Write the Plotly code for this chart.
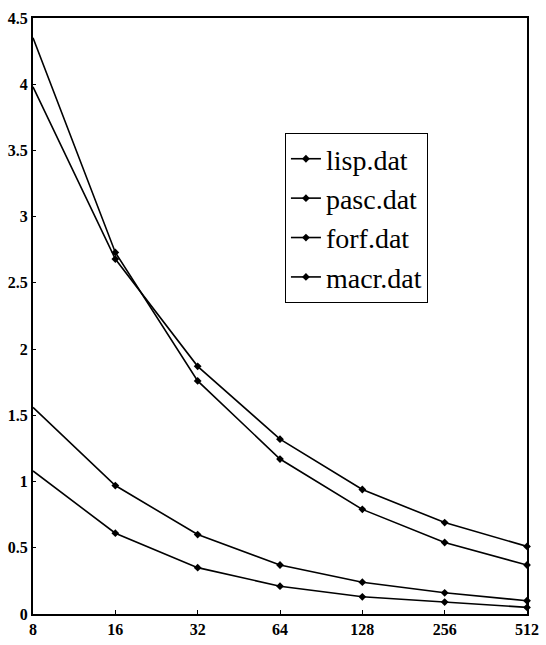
import plotly.graph_objects as go
import math

x_vals = [8, 16, 32, 64, 128, 256, 512]
x_labels = ["8", "16", "32", "64", "128", "256", "512"]
y_ticks = [0, 0.5, 1, 1.5, 2, 2.5, 3, 3.5, 4, 4.5]
y_labels = ["0", "0.5", "1", "1.5", "2", "2.5", "3", "3.5", "4", "4.5"]

lisp = [4.35, 2.73, 1.76, 1.17, 0.79, 0.54, 0.37]
pasc = [3.98, 2.68, 1.87, 1.32, 0.94, 0.69, 0.51]
forf = [1.56, 0.97, 0.60, 0.37, 0.24, 0.16, 0.10]
macr = [1.08, 0.61, 0.35, 0.21, 0.13, 0.09, 0.05]

series = [("lisp.dat", lisp), ("pasc.dat", pasc), ("forf.dat", forf), ("macr.dat", macr)]

fig = go.Figure()
for name, vals in series:
    fig.add_trace(go.Scatter(
        x=x_vals, y=vals, name=name, mode="lines+markers",
        line=dict(color="black", width=1.6),
        marker=dict(symbol="diamond", size=6, color="black"),
        cliponaxis=False,
    ))

tick_font = dict(family="Liberation Serif", size=16, color="black", weight=700)

fig.update_layout(
    width=546, height=645,
    margin=dict(l=33, r=19, t=18, b=31, autoexpand=False),
    paper_bgcolor="white", plot_bgcolor="white",
    font=dict(family="Liberation Serif", color="black"),
    showlegend=True,
    legend=dict(
        x=0.51, y=0.807, xanchor="left", yanchor="top",
        bordercolor="black", borderwidth=1, bgcolor="white",
        font=dict(family="Liberation Serif", size=28, color="black"),
        itemwidth=30,
    ),
    xaxis=dict(
        type="log", range=[math.log10(8), math.log10(512)],
        tickvals=x_vals, ticktext=x_labels,
        ticks="inside", ticklen=4, tickcolor="black",
        showline=True, linecolor="black", linewidth=2, mirror=True,
        showgrid=False, zeroline=False,
        tickfont=tick_font, automargin=False,
    ),
    yaxis=dict(
        range=[0, 4.5],
        tickvals=y_ticks, ticktext=y_labels,
        ticks="inside", ticklen=3, tickcolor="black",
        showline=True, linecolor="black", linewidth=2, mirror=True,
        showgrid=False, zeroline=False,
        tickfont=tick_font, automargin=False,
    ),
)

fig.write_html("out.html")
